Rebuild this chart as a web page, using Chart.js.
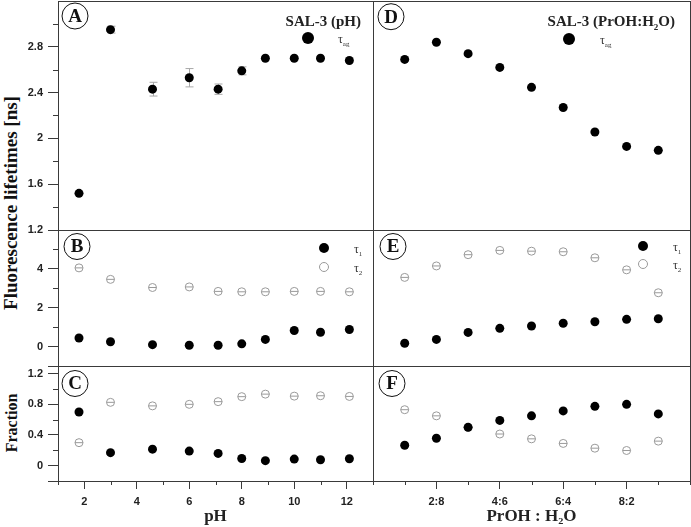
<!DOCTYPE html>
<html>
<head>
<meta charset="utf-8">
<script src="https://cdn.jsdelivr.net/npm/chart.js@4.4.0/dist/chart.umd.min.js"></script>
<style>
  body { margin: 0; background: #fff; width: 691px; height: 527px; position: relative; overflow: hidden; }
  .panel { position: absolute; }
  .ytitle { position: absolute; font: bold 19px "Liberation Serif", "Times New Roman", serif; color: #111;
            transform: translate(-50%, -50%) rotate(-90deg); white-space: nowrap; }
</style>
</head>
<body>
<div class="ytitle" style="left:11px;top:203px">Fluorescence lifetimes [ns]</div>
<div class="ytitle" style="left:12px;top:423px;font-size:16px">Fraction</div>
<script>
// pH series (panels A-C)
const phValues = [1.8, 3.0, 4.6, 6.0, 7.1, 8.0, 8.9, 10.0, 11.0, 12.1];
const phTauAvg = [1.52, 2.95, 2.43, 2.53, 2.43, 2.59, 2.70, 2.70, 2.70, 2.68];
const phTauAvgErr = [0, 0.03, 0.06, 0.08, 0.045, 0.035, 0, 0, 0, 0];
const phTau1 = [0.44, 0.25, 0.10, 0.07, 0.07, 0.14, 0.37, 0.83, 0.74, 0.88];
const phTau2 = [4.05, 3.46, 3.04, 3.07, 2.84, 2.82, 2.82, 2.84, 2.84, 2.82];
const phFrac1 = [0.70, 0.17, 0.215, 0.19, 0.16, 0.094, 0.065, 0.086, 0.077, 0.09];
const phFrac2 = [0.30, 0.826, 0.78, 0.80, 0.835, 0.90, 0.933, 0.907, 0.912, 0.903];

// PrOH:H2O series (panels D-F)
const ratioPos = [1, 2, 3, 4, 5, 6, 7, 8, 9];
const ratioLabels = ["1:9", "2:8", "3:7", "4:6", "5:5", "6:4", "7:3", "8:2", "9:1"];
const ratioTauAvg = [2.69, 2.84, 2.74, 2.62, 2.446, 2.27, 2.056, 1.93, 1.896];
const ratioTau1 = [0.17, 0.37, 0.73, 0.94, 1.06, 1.20, 1.28, 1.40, 1.43];
const ratioTau2 = [3.56, 4.15, 4.73, 4.95, 4.91, 4.88, 4.57, 3.95, 2.77];
const ratioFrac1 = [0.267, 0.357, 0.50, 0.59, 0.65, 0.714, 0.774, 0.80, 0.675];
const ratioFrac2 = [0.73, 0.65, 0.50, 0.413, 0.35, 0.29, 0.228, 0.198, 0.32];

// axis ticks
const phTicks = [2, 4, 6, 8, 10, 12];
const phMinor = [1, 3, 5, 7, 9, 11, 13];
const ratioTicks = [2, 4, 6, 8];
const ratioMinor = [0, 1, 3, 5, 7, 9, 10];
const avgTicks = [1.2, 1.6, 2, 2.4, 2.8];
const avgMinor = [1.4, 1.8, 2.2, 2.6, 3.0];
const tauTicks = [-1, 0, 2, 4];
const tauMinor = [1, 3, 5];
const fracTicks = [-0.2, 0, 0.4, 0.8, 1.2];
const fracMinor = [0.2, 0.6, 1.0];

const SERIF = '"Liberation Serif", "Times New Roman", serif';
const SANS = '"Liberation Sans", Arial, sans-serif';
const FRAME = "#3a3a3a";
const GRAY = "#9a9a9a";

const colL = { left: 58, right: 373, axisW: 58 };
const colR = { left: 373, right: 690, axisW: 0 };
const rowA = { top: 1, bottom: 230 };
const rowB = { top: 230, bottom: 366 };
const rowC = { top: 366, bottom: 481 };

const pts = (xs, ys) => xs.map((x, i) => ({ x, y: ys[i] }));

function filled(xs, ys, extra) {
  return Object.assign({
    data: pts(xs, ys), pointRadius: 4.5, pointBackgroundColor: "#000",
    pointBorderColor: "#000", pointBorderWidth: 0, clip: false
  }, extra || {});
}
function hollow(xs, ys) {
  return [
    { data: pts(xs, ys), pointRadius: 4, pointBackgroundColor: "rgba(0,0,0,0)",
      pointBorderColor: GRAY, pointBorderWidth: 1, clip: false },
    { data: pts(xs, ys), pointStyle: "line", pointRadius: 4,
      pointBorderColor: GRAY, pointBorderWidth: 1, clip: false }
  ];
}

function line(ctx, x0, y0, x1, y1) {
  ctx.beginPath(); ctx.moveTo(x0, y0); ctx.lineTo(x1, y1); ctx.stroke();
}

// text with optional subscript parts
function rich(ctx, parts, x, y, size, weight, align) {
  const w = parts.map(p => {
    ctx.font = `${weight} ${p.sub ? Math.round(size * 0.62) : size}px ${SERIF}`;
    return ctx.measureText(p.t).width;
  });
  const total = w.reduce((a, b) => a + b, 0);
  let cx = align === "right" ? x - total : x;
  ctx.textAlign = "left";
  ctx.textBaseline = "alphabetic";
  parts.forEach((p, i) => {
    ctx.font = `${weight} ${p.sub ? Math.round(size * 0.62) : size}px ${SERIF}`;
    ctx.fillText(p.t, cx, p.sub ? y + size * 0.25 : y);
    cx += w[i];
  });
}

const errorBars = {
  id: "errorBars",
  beforeDatasetsDraw(chart) {
    const { ctx, scales: { x, y } } = chart;
    chart.data.datasets.forEach(ds => {
      if (!ds.errors) return;
      ctx.save();
      ctx.strokeStyle = "#a8a8a8";
      ctx.lineWidth = 1;
      ds.data.forEach((p, i) => {
        const e = ds.errors[i];
        if (!e) return;
        const px = Math.round(x.getPixelForValue(p.x)) + 0.5;
        const y0 = y.getPixelForValue(p.y - e), y1 = y.getPixelForValue(p.y + e);
        line(ctx, px, y0, px, y1);
        line(ctx, px - 4, y0, px + 4, y0);
        line(ctx, px - 4, y1, px + 4, y1);
      });
      ctx.restore();
    });
  }
};

const decor = {
  id: "decor",
  afterDraw(chart, args, o) {
    const { ctx, chartArea: a, scales } = chart;
    ctx.save();
    ctx.strokeStyle = FRAME;
    ctx.lineWidth = 1;
    (o.minorY || []).forEach(v => {
      const y = Math.round(scales.y.getPixelForValue(v)) + 0.5;
      line(ctx, a.left - 5, y, a.left, y);
    });
    (o.minorX || []).forEach(v => {
      const x = Math.round(scales.x.getPixelForValue(v)) + 0.5;
      line(ctx, x, a.bottom, x, a.bottom + 4);
    });
    const L = Math.round(a.left) + 0.5, T = Math.round(a.top) + 0.5;
    ctx.strokeRect(L, T, Math.round(a.right) - Math.round(a.left), Math.round(a.bottom) - Math.round(a.top));

    // panel letter in a circle
    const lx = a.left + o.letter.dx, ly = a.top + o.letter.dy;
    ctx.strokeStyle = "#111";
    ctx.beginPath(); ctx.arc(lx, ly, 13, 0, Math.PI * 2); ctx.stroke();
    ctx.fillStyle = "#111";
    ctx.font = `bold 19px ${SERIF}`;
    ctx.textAlign = "center"; ctx.textBaseline = "middle";
    ctx.fillText(o.letter.text, lx, ly + 1);

    if (o.title) {
      ctx.fillStyle = "#222";
      rich(ctx, o.title.parts, a.right + o.title.dx, a.top + o.title.dy, 15, "bold", "right");
    }
    (o.legend || []).forEach(it => {
      const mx = a.right + it.dx, my = a.top + it.dy;
      ctx.beginPath(); ctx.arc(mx, my, it.r, 0, Math.PI * 2);
      if (it.hollow) { ctx.strokeStyle = GRAY; ctx.stroke(); }
      else { ctx.fillStyle = "#000"; ctx.fill(); }
      ctx.fillStyle = "#333";
      rich(ctx, [{ t: "τ" }, { t: it.sub, sub: true }], a.right + it.tx, a.top + it.ty, 12, "normal", "left");
    });
    ctx.restore();
  }
};

function makePanel(cfg) {
  const { col, row, xAxis, yAxis } = cfg;
  // generous margins so Chart.js never needs to shrink the plot area for edge labels
  const padT = 14, padR = 8, padL = col.axisW ? 0 : 8;
  const axisH = xAxis ? 527 - row.bottom : 0;
  const padB = xAxis ? 0 : 14;
  const div = document.createElement("div");
  div.className = "panel";
  const left = col.left - col.axisW - padL;
  const top = row.top - padT;
  const w = col.right - col.left + col.axisW + padL + padR;
  const h = row.bottom - row.top + padT + padB + axisH;
  div.style.left = left + "px"; div.style.top = top + "px";
  div.style.width = w + "px"; div.style.height = h + "px";
  const canvas = document.createElement("canvas");
  canvas.width = w; canvas.height = h;
  div.appendChild(canvas);
  document.body.appendChild(div);

  const tickFont = { family: SANS, size: 11, weight: "bold" };
  new Chart(canvas, {
    type: "scatter",
    data: { datasets: cfg.datasets },
    options: {
      responsive: false, animation: false, devicePixelRatio: 1, events: [],
      layout: { autoPadding: false, padding: { left: padL, right: padR, top: padT, bottom: padB } },
      plugins: {
        legend: { display: false }, tooltip: { enabled: false },
        decor: Object.assign({ minorY: col.axisW ? yAxis.minor : [], minorX: xAxis ? xAxis.minor : [] }, cfg.decor)
      },
      scales: {
        x: {
          type: "linear", min: xAxis ? xAxis.min : cfg.xRange[0], max: xAxis ? xAxis.max : cfg.xRange[1],
          display: !!xAxis,
          afterBuildTicks: s => { if (xAxis) s.ticks = xAxis.ticks.map(v => ({ value: v })); },
          afterFit: s => { s.height = axisH; },
          grid: { drawOnChartArea: false, drawTicks: true, tickLength: 8, tickColor: FRAME },
          border: { display: false },
          ticks: { font: tickFont, color: "#222", padding: 6, maxRotation: 0, autoSkip: false,
                   callback: xAxis ? xAxis.label : undefined },
          title: xAxis ? { display: true, text: xAxis.title, color: "#222",
                           font: { family: SERIF, size: 17, weight: "bold" }, padding: { top: 0, bottom: 0 } } : undefined
        },
        y: {
          type: "linear", min: yAxis.min, max: yAxis.max,
          display: !!col.axisW,
          afterBuildTicks: s => { s.ticks = yAxis.ticks.map(v => ({ value: v })); },
          afterFit: s => { s.width = col.axisW; },
          grid: { drawOnChartArea: false, drawTicks: true, tickLength: 10, tickColor: FRAME },
          border: { display: false },
          ticks: { font: tickFont, color: "#222", padding: 5, autoSkip: false,
                   callback: v => (v === yAxis.hidden ? "" : String(v)) }
        }
      }
    },
    plugins: [errorBars, decor]
  });
}

const yAvg = { min: 1.2, max: 3.2, ticks: avgTicks, minor: avgMinor };
const yTau = { min: -1, max: 6, ticks: tauTicks, minor: tauMinor, hidden: -1 };
const yFrac = { min: -0.2, max: 1.3, ticks: fracTicks, minor: fracMinor, hidden: -0.2 };
const xPh = { min: 1, max: 13, ticks: phTicks, minor: phMinor, title: "pH", label: v => String(v) };
const xRatio = { min: 0, max: 10, ticks: ratioTicks, minor: ratioMinor, title: "PrOH : H₂O",
                 label: v => ratioLabels[ratioPos.indexOf(v)] };

// A
makePanel({
  col: colL, row: rowA, yAxis: yAvg, xRange: [1, 13],
  datasets: [filled(phValues, phTauAvg, { errors: phTauAvgErr })],
  decor: {
    letter: { text: "A", dx: 17, dy: 15 },
    title: { parts: [{ t: "SAL-3 (pH)" }], dx: -12, dy: 25 },
    legend: [{ dx: -65, dy: 37, r: 6, tx: -35, ty: 42, sub: "ag" }]
  }
});
// B
makePanel({
  col: colL, row: rowB, yAxis: yTau, xRange: [1, 13],
  datasets: [filled(phValues, phTau1)].concat(hollow(phValues, phTau2)),
  decor: {
    letter: { text: "B", dx: 19, dy: 16.5 },
    legend: [
      { dx: -49, dy: 18, r: 5, tx: -19, ty: 23, sub: "1" },
      { dx: -49, dy: 37, r: 4.5, hollow: true, tx: -19, ty: 42, sub: "2" }
    ]
  }
});
// C
makePanel({
  col: colL, row: rowC, yAxis: yFrac, xAxis: xPh,
  datasets: [filled(phValues, phFrac1)].concat(hollow(phValues, phFrac2)),
  decor: { letter: { text: "C", dx: 17, dy: 17.5 } }
});
// D
makePanel({
  col: colR, row: rowA, yAxis: yAvg, xRange: [0, 10],
  datasets: [filled(ratioPos, ratioTauAvg)],
  decor: {
    letter: { text: "D", dx: 18, dy: 15.7 },
    title: { parts: [{ t: "SAL-3 (PrOH:H" }, { t: "2", sub: true }, { t: "O)" }], dx: -15, dy: 25 },
    legend: [{ dx: -121, dy: 38, r: 6, tx: -90, ty: 43, sub: "ag" }]
  }
});
// E
makePanel({
  col: colR, row: rowB, yAxis: yTau, xRange: [0, 10],
  datasets: [filled(ratioPos, ratioTau1)].concat(hollow(ratioPos, ratioTau2)),
  decor: {
    letter: { text: "E", dx: 20, dy: 16.5 },
    legend: [
      { dx: -47, dy: 16, r: 5, tx: -17, ty: 21, sub: "1" },
      { dx: -47, dy: 34, r: 4.5, hollow: true, tx: -17, ty: 39, sub: "2" }
    ]
  }
});
// F
makePanel({
  col: colR, row: rowC, yAxis: yFrac, xAxis: xRatio,
  datasets: [filled(ratioPos, ratioFrac1)].concat(hollow(ratioPos, ratioFrac2)),
  decor: { letter: { text: "F", dx: 19, dy: 17.5 } }
});
</script>
</body>
</html>
